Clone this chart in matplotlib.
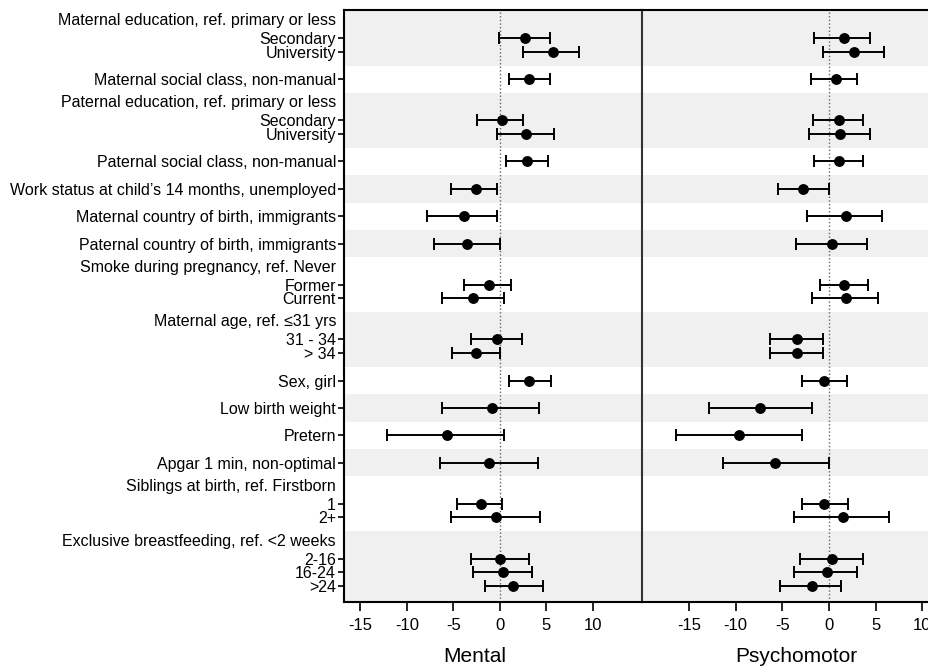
import numpy as np
import matplotlib
matplotlib.use("Agg")
import matplotlib.pyplot as plt
from matplotlib.transforms import blended_transform_factory

plt.rcParams['font.family'] = ['Liberation Sans', 'DejaVu Sans']
plt.rcParams['axes.unicode_minus'] = False

# Row labels: each group has an optional header line and its items
group_headers = [
    "Maternal education, ref. primary or less", None,
    "Paternal education, ref. primary or less", None, None, None, None,
    "Smoke during pregnancy, ref. Never",
    "Maternal age, ref. \u226431 yrs", None, None, None, None,
    "Siblings at birth, ref. Firstborn",
    "Exclusive breastfeeding, ref. <2 weeks",
]
group_items = [
    ["Secondary", "University"],
    ["Maternal social class, non-manual"],
    ["Secondary", "University"],
    ["Paternal social class, non-manual"],
    ["Work status at child\u2019s 14 months, unemployed"],
    ["Maternal country of birth, immigrants"],
    ["Paternal country of birth, immigrants"],
    ["Former", "Current"],
    ["31 - 34", "> 34"],
    ["Sex, girl"],
    ["Low birth weight"],
    ["Pretern"],
    ["Apgar 1 min, non-optimal"],
    ["1", "2+"],
    ["2-16", "16-24", ">24"],
]

# Estimates and 95% CI
mental_est = [2.7, 5.65, 3.15, 0.2, 2.85, 2.95, -2.6, -3.9, -3.55, -1.2, -2.85,
              -0.35, -2.6, 3.15, -0.9, -5.65, -1.15, -2.05, -0.45, 0.05, 0.35, 1.35]
mental_lo = [-0.1, 2.5, 0.95, -2.45, -0.3, 0.6, -5.3, -7.8, -7.05, -3.9, -6.25,
             -3.1, -5.2, 1.0, -6.2, -12.1, -6.45, -4.65, -5.25, -3.1, -2.95, -1.65]
mental_hi = [5.4, 8.45, 5.4, 2.5, 5.85, 5.15, -0.3, -0.3, 0.0, 1.2, 0.4,
             2.35, 0.0, 5.45, 4.15, 0.45, 4.05, 0.25, 4.35, 3.1, 3.45, 4.6]

psycho_est = [1.6, 2.65, 0.7, 1.05, 1.2, 1.05, -2.75, 1.8, 0.35, 1.6, 1.8,
              -3.4, -3.4, -0.5, -7.4, -9.6, -5.75, -0.5, 1.55, 0.35, -0.25, -1.85]
psycho_lo = [-1.6, -0.65, -1.95, -1.75, -2.1, -1.6, -5.5, -2.4, -3.5, -1.0, -1.85,
             -6.3, -6.3, -2.9, -12.85, -16.4, -11.4, -2.9, -3.7, -3.15, -3.7, -5.3]
psycho_hi = [4.4, 5.85, 2.95, 3.65, 4.35, 3.65, -0.05, 5.7, 4.05, 4.15, 5.2,
             -0.6, -0.6, 1.9, -1.85, -2.9, -0.05, 2.0, 6.45, 3.65, 3.05, 1.25]

x_ticks = [-15, -10, -5, 0, 5, 10]

# work out row positions (header takes one row, gap of one row between groups)
pos = []
labels = []
headers = []   # (y, text)
spans = []     # (start, end) of each group
cur = -1
for head, items in zip(group_headers, group_items):
    start = cur
    if head is not None:
        headers.append((cur, head))
        cur += 1
    for it in items:
        pos.append(cur)
        labels.append(it)
        cur += 1
    spans.append((start, cur - 1))
    cur += 1
pos = np.array(pos)

ylim = (41.15, -2.1)
edges = [ylim[1]]
for i in range(len(spans) - 1):
    edges.append((spans[i][1] + spans[i + 1][0]) / 2)
edges.append(ylim[0])

W, H = 929, 672
fig = plt.figure(figsize=(W / 100, H / 100), dpi=100)
ax1 = fig.add_axes([344.3 / W, 1 - 601.7 / H, 297.4 / W, 592.2 / H])
ax2 = fig.add_axes([641.7 / W, 1 - 601.7 / H, 297.4 / W, 592.2 / H])


def draw_panel(ax, est, lo, hi, xlim):
    for i in range(len(edges) - 1):
        col = '#f0f0f0' if i % 2 == 0 else 'white'
        ax.axhspan(edges[i], edges[i + 1], color=col, lw=0, zorder=0)
    ax.axvline(0, color='#666666', lw=1.0, ls=(0, (1, 1.6)), zorder=1)
    est = np.array(est)
    err = [est - np.array(lo), np.array(hi) - est]
    ax.errorbar(est, pos, xerr=err, fmt='o', color='black', ms=6.8,
                elinewidth=1.4, capsize=4, capthick=1.4, zorder=3)
    ax.set_xlim(*xlim)
    ax.set_ylim(*ylim)
    ax.set_xticks(x_ticks)
    ax.tick_params(axis='x', length=6.5, width=1.2, labelsize=12, pad=5.5)
    for s in ['top', 'bottom', 'left']:
        ax.spines[s].set_linewidth(1.5)
    ax.spines['right'].set_visible(False)


draw_panel(ax1, mental_est, mental_lo, mental_hi, (-16.74, 15.24))
draw_panel(ax2, psycho_est, psycho_lo, psycho_hi, (-20.07, 11.8))

ax1.set_yticks(pos)
ax1.set_yticklabels(labels)
ax1.tick_params(axis='y', length=4, width=1.2, labelsize=11.5, pad=2)
trans = blended_transform_factory(ax1.transAxes, ax1.transData)
for y, txt in headers:
    ax1.text(-0.0275, y - 0.28, txt, transform=trans, ha='right', va='center',
             fontsize=11.5)

ax2.set_yticks([])
ax2.spines['left'].set_color('#333333')

fig.text(475 / W, 1 - 657 / H, "Mental", ha='center', va='center', fontsize=15)
fig.text(796 / W, 1 - 657 / H, "Psychomotor", ha='center', va='center', fontsize=15)

fig.savefig('out.png', dpi=100)
